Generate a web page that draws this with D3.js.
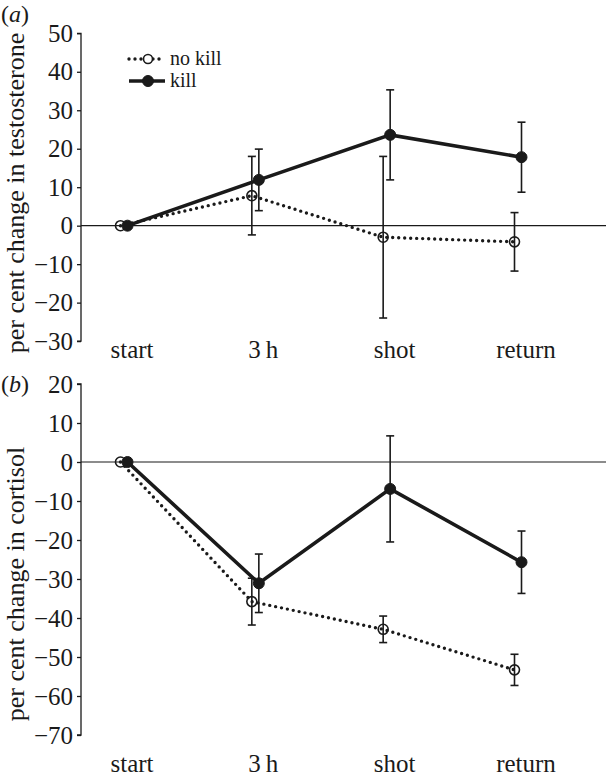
<!DOCTYPE html>
<html><head><meta charset="utf-8">
<script src="https://cdn.jsdelivr.net/npm/d3@7"></script>
<style>
html,body{margin:0;padding:0;background:#fff;}
svg{display:block;}
text{fill:#1a1a1a;}
</style></head>
<body>
<div id="chart"></div>
<script>
const categories = ["start", "3\u2009h", "shot", "return"];
const series = ["no kill", "kill"];

// panel (a): per cent change in testosterone
const testoNoKill = [0, 7.8, -3.0, -4.2];
const testoNoKillErr = [0, 10.2, 21.0, 7.6];
const testoKill = [0, 11.9, 23.6, 17.8];
const testoKillErr = [0, 8.0, 11.7, 9.1];
const testoTicks = [50, 40, 30, 20, 10, 0, -10, -20, -30];

// panel (b): per cent change in cortisol
const cortNoKill = [0, -35.8, -42.9, -53.3];
const cortNoKillErr = [0, 6.0, 3.4, 4.0];
const cortKill = [0, -31.1, -6.9, -25.7];
const cortKillErr = [0, 7.5, 13.6, 8.0];
const cortTicks = [20, 10, 0, -10, -20, -30, -40, -50, -60, -70];

const FONT = "'Liberation Serif', 'Times New Roman', Times, Tinos, serif";
const W = 609, H = 777;
const svg = d3.select("#chart").append("svg").attr("width", W).attr("height", H)
  .style("font-family", FONT);
const ink = "#1a1a1a";

function panel(opt) {
  const g = svg.append("g");
  const y = d3.scaleLinear().domain([opt.ticks[opt.ticks.length - 1], opt.ticks[0]]).range([opt.y1, opt.y0]);
  const x = d3.scalePoint().domain(categories).range([124, 518]);
  const off = 3.5;

  const ax = g.append("g").attr("transform", "translate(81,0)")
    .call(d3.axisLeft(y).tickValues(opt.ticks).tickSize(4).tickPadding(4)
      .tickFormat(d => d < 0 ? "\u2212" + Math.abs(d) : d));
  ax.attr("font-family", null).attr("font-size", null);
  ax.select(".domain").attr("stroke", ink).attr("stroke-width", 1.3).attr("d", `M-4,${y(opt.ticks[0])}H0V${y(opt.ticks[opt.ticks.length-1])}H-4`);
  ax.selectAll(".tick line").attr("stroke", ink).attr("stroke-width", 1.3);
  ax.selectAll(".tick text").style("font-size", "25px").style("font-family", FONT).attr("fill", ink);

  g.append("line").attr("x1", 81).attr("x2", 606).attr("y1", y(0)).attr("y2", y(0))
    .attr("stroke", ink).attr("stroke-width", 1.2);

  g.selectAll(".cat").data(categories).enter().append("text")
    .attr("x", d => x(d) + 8).attr("y", opt.labY).attr("text-anchor", "middle")
    .style("font-size", "25px").text(d => d);

  g.append("text").attr("transform", `translate(24,${opt.titleY}) rotate(-90)`)
    .attr("text-anchor", "middle").style("font-size", "26px").text(opt.title);

  const pl = g.append("text").attr("x", 1).attr("y", opt.panelY).style("font-size", "24px");
  pl.append("tspan").text("(");
  pl.append("tspan").attr("font-style", "italic").text(opt.letter);
  pl.append("tspan").text(")");

  const dataSets = [
    {vals: opt.noKill, err: opt.noKillErr, dx: -off, solid: false},
    {vals: opt.kill, err: opt.killErr, dx: off, solid: true}
  ];
  dataSets.forEach(ds => {
    const pts = categories.map((c, i) => ({x: x(c) + ds.dx, v: ds.vals[i], e: ds.err[i]}));
    const eb = g.append("g");
    pts.filter(p => p.e > 0).forEach(p => {
      eb.append("line").attr("x1", p.x).attr("x2", p.x).attr("y1", y(p.v + p.e)).attr("y2", y(p.v - p.e))
        .attr("stroke", ink).attr("stroke-width", 1.6);
      [p.v + p.e, p.v - p.e].forEach(v => {
        eb.append("line").attr("x1", p.x - 4).attr("x2", p.x + 4).attr("y1", y(v)).attr("y2", y(v))
          .attr("stroke", ink).attr("stroke-width", 1.6);
      });
    });
    const line = d3.line().x(p => p.x).y(p => y(p.v));
    const path = g.append("path").datum(pts).attr("d", line).attr("fill", "none").attr("stroke", ink);
    if (ds.solid) path.attr("stroke-width", 3.6);
    else path.attr("stroke-width", 3.4).attr("stroke-dasharray", "0,6").attr("stroke-linecap", "round");
    g.selectAll(null).data(pts).enter().append("circle")
      .attr("cx", p => p.x).attr("cy", p => y(p.v)).attr("r", ds.solid ? 5.5 : 5)
      .attr("fill", ds.solid ? ink : "none").attr("stroke", ink).attr("stroke-width", ds.solid ? 1 : 1.6);
  });
  return g;
}

panel({ticks: testoTicks, y0: 33.3, y1: 341.1, labY: 358, titleY: 193, panelY: 22, letter: "a",
  title: "per cent change in testosterone",
  noKill: testoNoKill, noKillErr: testoNoKillErr, kill: testoKill, killErr: testoKillErr});
panel({ticks: cortTicks, y0: 384, y1: 735, labY: 772, titleY: 584, panelY: 392, letter: "b",
  title: "per cent change in cortisol",
  noKill: cortNoKill, noKillErr: cortNoKillErr, kill: cortKill, killErr: cortKillErr});

const lg = svg.append("g");
const legItems = [{name: series[0], y: 59, solid: false}, {name: series[1], y: 81, solid: true}];
legItems.forEach(it => {
  const ln = lg.append("line").attr("x1", 129).attr("x2", 165).attr("y1", it.y).attr("y2", it.y).attr("stroke", ink);
  if (it.solid) ln.attr("stroke-width", 3.6);
  else ln.attr("stroke-width", 3.4).attr("stroke-dasharray", "0,6").attr("stroke-linecap", "round");
  lg.append("circle").attr("cx", 148).attr("cy", it.y).attr("r", it.solid ? 5.5 : 4.5)
    .attr("fill", it.solid ? ink : "#fff").attr("stroke", ink).attr("stroke-width", it.solid ? 1 : 1.6);
  lg.append("text").attr("x", 170).attr("y", it.y + 5.5).style("font-size", "20px").text(it.name);
});
</script>
</body></html>
